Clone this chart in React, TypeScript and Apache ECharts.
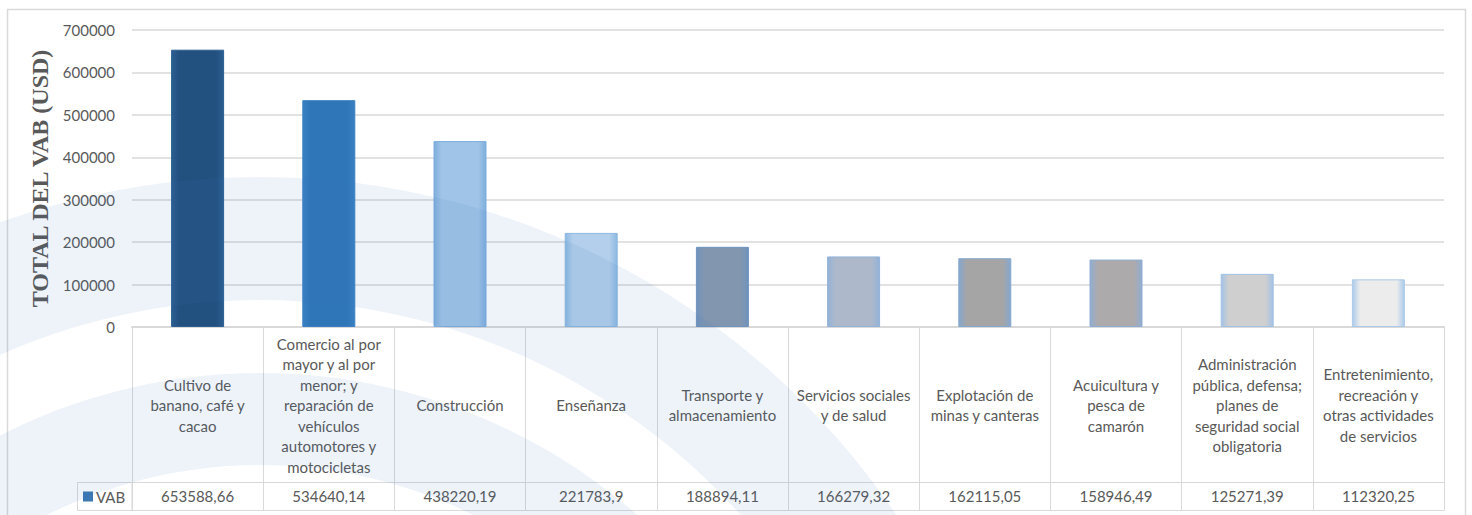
import React, { useEffect, useRef } from "react";
import * as echarts from "echarts";

const categories: string[] = [
  "Cultivo de\nbanano, café y\ncacao",
  "Comercio al por\nmayor y al por\nmenor; y\nreparación de\nvehículos\nautomotores y\nmotocicletas",
  "Construcción",
  "Enseñanza",
  "Transporte y\nalmacenamiento",
  "Servicios sociales\ny de salud",
  "Explotación de\nminas y canteras",
  "Acuicultura y\npesca de\ncamarón",
  "Administración\npública, defensa;\nplanes de\nseguridad social\nobligatoria",
  "Entretenimiento,\nrecreación y\notras actividades\nde servicios",
];

const vabValues: number[] = [
  653588.66, 534640.14, 438220.19, 221783.9, 188894.11, 166279.32, 162115.05,
  158946.49, 125271.39, 112320.25,
];

const barInner: string[] = [
  "#22507f", "#2f76b8", "#a0c4e7", "#b3cfeb", "#8296b0",
  "#adb9cb", "#a5a5a6", "#adaaab", "#d0cfcf", "#ececec",
];
const barEdge: string[] = [
  "#2c5e92", "#3a80c2", "#7eaedd", "#8cb8e2", "#7093bd",
  "#92b2d8", "#85a7cf", "#8fadd2", "#a2c2e5", "#abcaea",
];

const yTicks = { min: 0, max: 700000, interval: 100000 };

const FONT = "Lato, 'Open Sans', sans-serif";
const TXT = "#595959";
const LINE = "#d9d9d9";

export default function App() {
  const ref = useRef<HTMLDivElement>(null);
  useEffect(() => {
    if (!ref.current) return;
    const chart = echarts.init(ref.current, undefined, { renderer: "svg" });
    const valueLabels = vabValues.map((v) => String(v).replace(".", ","));
    const data = vabValues.map((v, i) => ({
      value: v,
      itemStyle: {
        color: new echarts.graphic.LinearGradient(0, 0, 1, 0, [
          { offset: 0, color: barEdge[i] },
          { offset: 0.15, color: barInner[i] },
          { offset: 0.85, color: barInner[i] },
          { offset: 1, color: barEdge[i] },
        ]),
        borderColor: barEdge[i],
        borderWidth: 1,
      },
    }));
    const wm = "rgba(60,115,185,0.085)";
    chart.setOption({
      animation: false,
      backgroundColor: "#ffffff",
      grid: { left: 132, right: 28, top: 30, bottom: 188 },
      legend: {
        data: ["VAB"],
        left: 83,
        top: 489,
        padding: 0,
        itemWidth: 10,
        itemHeight: 10,
        icon: "rect",
        itemStyle: { borderWidth: 0, color: "#3c78b4" },
        textStyle: { color: TXT, fontFamily: FONT, fontSize: 15, padding: [0, 0, 0, -2] },
      },
      xAxis: [
        {
          type: "category",
          data: categories,
          position: "bottom",
          axisLine: { show: true, lineStyle: { color: LINE, width: 2 } },
          axisTick: { show: true, length: 183, lineStyle: { color: LINE, width: 1 } },
          axisLabel: {
            interval: 0,
            margin: 78,
            verticalAlign: "middle",
            color: TXT,
            fontFamily: FONT,
            fontSize: 15,
            lineHeight: 20.5,
          },
        },
        {
          type: "category",
          data: valueLabels,
          position: "bottom",
          offset: 155,
          axisLine: { show: true, lineStyle: { color: LINE, width: 1 } },
          axisTick: { show: false },
          axisLabel: {
            interval: 0,
            margin: 13.5,
            verticalAlign: "middle",
            color: TXT,
            fontFamily: FONT,
            fontSize: 15,
          },
        },
        {
          type: "category",
          data: valueLabels,
          position: "bottom",
          offset: 183,
          axisLine: { show: true, lineStyle: { color: LINE, width: 1 } },
          axisTick: { show: false },
          axisLabel: { show: false },
        },
      ],
      yAxis: {
        type: "value",
        min: yTicks.min,
        max: yTicks.max,
        interval: yTicks.interval,
        name: "TOTAL DEL VAB (USD)",
        nameLocation: "middle",
        nameGap: 79,
        nameTextStyle: {
          color: TXT,
          fontFamily: "'Liberation Serif', 'Times New Roman', serif",
          fontWeight: "bold",
          fontSize: 24,
        },
        axisLine: { show: false },
        axisTick: { show: false },
        splitLine: { lineStyle: { color: LINE, width: 1.5 } },
        axisLabel: {
          color: TXT,
          fontFamily: FONT,
          fontSize: 15,
          margin: 17,
          formatter: (v: number) => String(v),
        },
      },
      series: [
        {
          name: "VAB",
          type: "bar",
          xAxisIndex: 0,
          barWidth: 53,
          itemStyle: { color: "#3c78b4" },
          data,
        },
      ],
      graphic: [
        {
          type: "rect",
          silent: true,
          z: 50,
          shape: { x: 7.5, y: 9.5, width: 1458, height: 530 },
          style: { fill: "none", stroke: LINE, lineWidth: 1.5 },
        },
        {
          type: "rect",
          silent: true,
          z: 50,
          shape: { x: 77.5, y: 482.5, width: 54.5, height: 28 },
          style: { fill: "none", stroke: LINE, lineWidth: 1 },
        },
        {
          type: "ring",
          silent: true,
          z: 60,
          shape: { cx: 260, cy: 945, r: 768, r0: 645 },
          style: { fill: wm },
        },
        {
          type: "ring",
          silent: true,
          z: 60,
          shape: { cx: 260, cy: 945, r: 572, r0: 480 },
          style: { fill: wm },
        },
      ],
    });
    return () => chart.dispose();
  }, []);
  return (
    <div
      ref={ref}
      style={{ position: "fixed", left: 0, top: 0, width: 1472, height: 515 }}
    />
  );
}
